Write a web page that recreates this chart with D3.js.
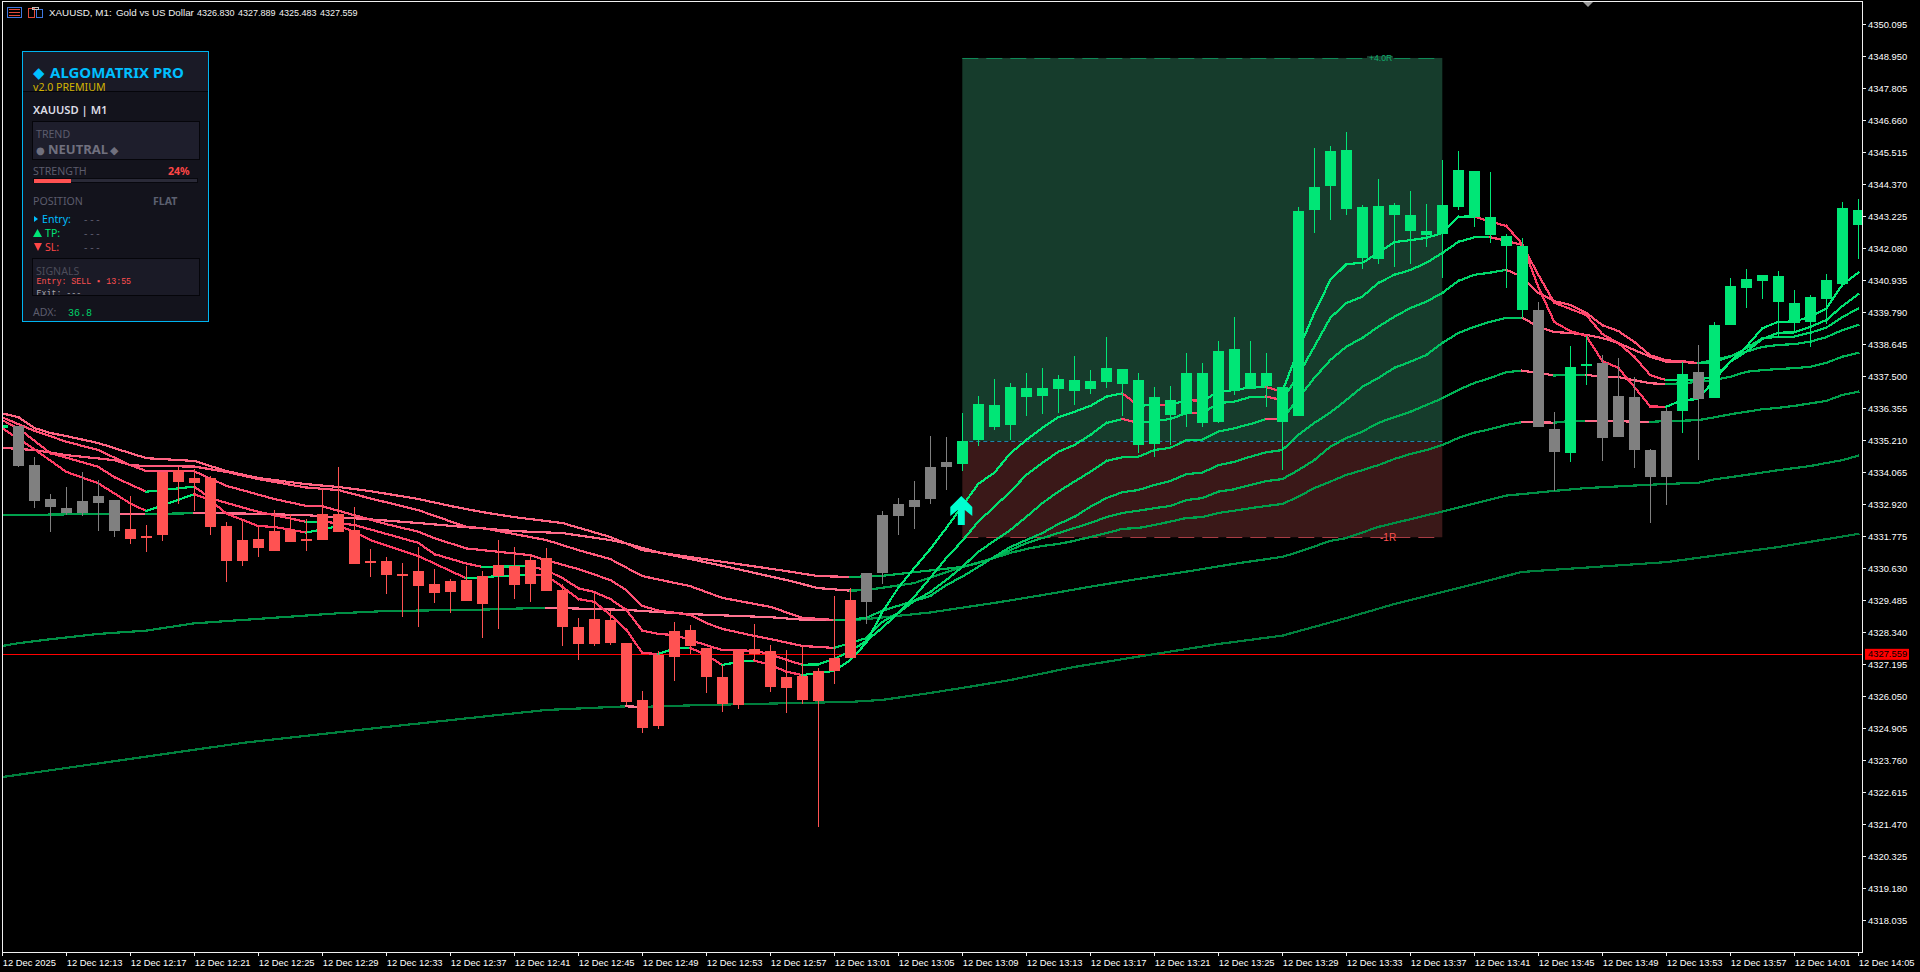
<!DOCTYPE html>
<html>
<head>
<meta charset="utf-8">
<title>XAUUSD M1</title>
<script src="https://cdn.jsdelivr.net/npm/d3@7"></script>
<style>
  html, body { margin: 0; background: #000; overflow: hidden; }
  text { font-family: "Liberation Sans", sans-serif; }
</style>
</head>
<body>
<div id="chart"></div>
<script>
// bars are one minute apart, bar 0 = 12:09
const candleState = "gkkkkkkkrrrrrrrrrrrrrrrrrrrrrrrrrrrrrrrrrrrrrrrrrrrrrrkkkkkkggggggggggggggggggggggggggggggggggggkkggkkkkkgkgggggggggg".split("");
const open = [4335.64,4335.71,4334.31,4333.10,4332.78,4333.01,4333.20,4333.06,4332.02,4331.79,4334.08,4334.14,4333.84,4333.85,4332.13,4331.63,4331.67,4331.95,4331.99,4331.65,4332.58,4332.55,4331.99,4330.87,4330.88,4330.41,4330.52,4330.06,4330.16,4330.20,
  4330.34,4330.74,4330.70,4330.92,4331.00,4329.85,4328.52,4328.80,4328.77,4327.94,4325.91,4327.52,4328.37,4328.41,4327.77,4326.73,4327.70,4327.73,4327.66,4326.73,4326.77,4326.93,4327.41,4329.48,
  4330.45,4332.53,4332.92,4333.06,4334.24,4334.42,
  4334.36,4335.22,4335.69,4335.76,4336.76,4336.80,4337.04,4336.97,4337.04,4337.30,4337.23,4335.04,4335.08,4336.10,4336.15,4335.83,4335.87,4336.95,4337.02,4337.13,4335.87,4336.08,4343.45,4344.31,4343.48,4341.72,4341.69,4343.26,4342.69,4342.55,4342.58,4343.55,4343.19,4342.55,4342.15,4339.86,
  4339.86,4335.60,4334.74,4337.88,4337.96,4336.78,4336.75,4334.85,4336.25,4336.25,4337.64,4336.71,4339.32,4340.65,4340.90,4340.15,4339.41,4339.43,4340.26,4340.79,4342.90];
const high = [4335.75,4335.71,4334.59,4333.28,4333.52,4334.05,4333.78,4333.06,4333.20,4332.16,4334.08,4334.25,4334.16,4333.92,4332.27,4332.35,4332.11,4332.70,4332.56,4332.37,4333.44,4334.23,4332.80,4331.31,4331.01,4330.80,4331.38,4330.59,4330.24,4330.70,
  4330.52,4331.63,4331.38,4331.10,4331.35,4330.06,4328.84,4329.75,4329.10,4327.94,4326.23,4327.66,4328.70,4328.59,4327.77,4327.16,4327.70,4328.63,4327.86,4327.70,4327.84,4327.05,4329.63,4329.90,
  4330.45,4332.67,4333.13,4333.74,4335.35,4335.32,
  4336.16,4336.77,4337.38,4337.24,4337.59,4337.77,4337.52,4338.21,4337.71,4338.88,4337.74,4337.59,4337.09,4337.13,4338.31,4337.95,4338.74,4339.60,4338.74,4338.31,4337.09,4343.53,4345.66,4345.73,4346.23,4343.62,4344.55,4343.68,4344.12,4343.65,4345.23,4345.55,4344.84,4344.80,4342.58,4342.44,
  4340.15,4336.21,4338.57,4338.93,4338.25,4338.14,4337.46,4334.89,4336.35,4338.00,4338.61,4339.43,4341.01,4341.33,4341.11,4341.26,4340.58,4340.40,4341.15,4343.73,4343.83];
const low = [4335.64,4334.25,4332.79,4331.93,4332.53,4332.50,4331.96,4331.75,4331.49,4331.20,4331.59,4332.92,4332.67,4331.82,4330.13,4330.71,4331.02,4331.25,4331.57,4331.24,4331.64,4331.93,4330.78,4330.31,4329.70,4328.88,4328.52,4329.38,4329.02,4329.46,
  4328.14,4328.46,4329.53,4329.43,4329.82,4327.85,4327.35,4327.85,4327.89,4325.74,4324.74,4324.87,4326.59,4327.55,4326.16,4325.48,4325.58,4327.30,4326.19,4325.44,4325.76,4321.36,4326.48,4327.41,
  4328.63,4330.06,4331.81,4332.03,4332.92,4333.42,
  4334.10,4335.00,4335.58,4335.21,4336.07,4336.14,4336.18,4336.46,4336.87,4337.07,4336.07,4334.74,4334.60,4335.02,4335.68,4335.68,4335.82,4336.82,4337.02,4336.38,4334.14,4336.08,4342.62,4343.08,4343.26,4341.33,4341.51,4341.40,4341.51,4342.12,4341.01,4343.44,4342.83,4342.26,4340.65,4339.58,
  4335.68,4333.39,4334.42,4337.18,4334.46,4335.32,4334.21,4332.24,4332.88,4335.46,4334.49,4336.71,4339.32,4339.93,4340.26,4338.91,4339.07,4338.54,4339.36,4340.79,4341.69];
const close = [4335.75,4334.29,4333.04,4332.82,4332.60,4332.60,4332.97,4331.96,4331.68,4331.74,4331.82,4333.72,4333.68,4332.11,4330.89,4330.89,4331.36,4331.25,4331.57,4331.61,4331.64,4331.93,4330.78,4330.82,4330.39,4330.37,4330.00,4329.75,4329.78,4329.46,
  4329.34,4330.34,4330.02,4330.06,4329.82,4328.53,4327.91,4327.91,4327.95,4325.85,4324.90,4324.98,4327.45,4327.84,4326.73,4325.76,4325.73,4327.55,4326.37,4326.34,4325.91,4325.87,4326.94,4327.41,
  4329.41,4330.45,4332.49,4332.81,4333.10,4334.24,
  4335.16,4336.50,4336.45,4337.09,4337.06,4337.06,4337.38,4337.34,4337.31,4337.77,4337.74,4337.34,4336.74,4336.63,4337.59,4337.59,4338.38,4338.45,4337.59,4337.59,4337.09,4343.40,4344.26,4345.55,4345.59,4343.55,4343.58,4343.62,4343.26,4342.69,4343.62,4344.87,4344.84,4343.19,4342.51,4342.15,
  4335.68,4334.78,4337.82,4337.93,4335.28,4335.32,4334.85,4333.89,4333.89,4337.57,4336.68,4339.32,4340.72,4340.97,4341.11,4341.08,4340.11,4340.33,4340.94,4343.51,4343.44];

// moving averages, [bar, price]
const ema1 = [[0,4335.63],[2,4334.88],[4,4334.07],[6,4333.66],[8,4332.94],[9,4332.67],[12,4333.27],[13,4333.06],[14,4332.58],[16,4332.13],[17,4332.10],[19,4331.90],[20,4332.01],[21,4332.13],[22,4331.93],[23,4331.63],[26,4331.06],[29,4330.26],[30,4330.30],[31,4330.34],[33,4330.38],[34,4330.36],[35,4329.96],[36,4329.52],[37,4329.42],[38,4328.95],[39,4328.42],[40,4327.59],[41,4327.55],[42,4327.76],[43,4327.77],[44,4327.52],[45,4327.16],[46,4327.27],[47,4327.32],[48,4327.16],[49,4326.92],[50,4326.80],[51,4326.87],[52,4326.95],[53,4327.34],[54,4327.95],[55,4329.06],[56,4329.92],[57,4330.63],[58,4331.31],[59,4332.06],[60,4332.85],[61,4333.64],[62,4334.04],[63,4334.73],[64,4335.21],[65,4335.64],[66,4336.03],[67,4336.22],[68,4336.43],[69,4336.76],[70,4336.88],[71,4336.44],[72,4336.46],[73,4336.45],[74,4336.64],[75,4336.61],[76,4336.93],[77,4337.00],[78,4337.09],[79,4337.10],[80,4336.94],[81,4338.43],[82,4339.75],[83,4340.93],[84,4341.50],[85,4341.55],[86,4341.90],[87,4342.29],[88,4342.36],[89,4342.44],[90,4342.62],[91,4343.20],[92,4343.21],[93,4343.02],[94,4342.87],[95,4342.22],[96,4340.69],[97,4339.43],[98,4339.11],[99,4338.93],[100,4338.04],[101,4337.79],[102,4337.11],[103,4336.41],[104,4336.40],[105,4336.64],[106,4336.67],[107,4337.36],[108,4338.01],[109,4338.55],[110,4339.21],[111,4339.44],[112,4339.45],[113,4339.62],[114,4339.92],[115,4340.76],[116,4341.20]];
const ema2 = [[0,4335.92],[1,4335.63],[3,4334.74],[6,4334.25],[7,4333.88],[9,4333.36],[12,4333.54],[13,4333.13],[14,4332.96],[16,4332.64],[17,4332.52],[19,4332.28],[20,4332.29],[22,4332.17],[23,4332.01],[26,4331.53],[27,4331.13],[29,4330.79],[30,4330.67],[31,4330.68],[33,4330.70],[34,4330.55],[35,4330.27],[36,4329.91],[37,4329.77],[38,4329.52],[39,4329.13],[40,4328.39],[41,4328.27],[42,4328.23],[43,4328.05],[45,4327.69],[47,4327.67],[48,4327.55],[49,4327.34],[50,4327.17],[51,4327.18],[52,4327.38],[53,4327.66],[54,4328.02],[55,4328.49],[56,4329.02],[57,4329.60],[58,4330.28],[59,4330.99],[60,4331.60],[61,4332.29],[62,4332.82],[63,4333.36],[64,4333.96],[65,4334.39],[66,4334.79],[67,4335.03],[68,4335.39],[69,4335.82],[70,4335.96],[71,4335.82],[72,4335.89],[73,4335.96],[74,4336.17],[75,4336.16],[76,4336.53],[77,4336.58],[78,4336.75],[79,4336.76],[80,4336.64],[81,4337.53],[82,4338.55],[83,4339.58],[84,4340.11],[85,4340.34],[86,4340.83],[87,4341.12],[88,4341.29],[89,4341.55],[90,4341.90],[91,4342.30],[92,4342.46],[93,4342.47],[94,4342.33],[95,4342.19],[96,4341.12],[97,4340.12],[99,4339.68],[100,4339.00],[101,4338.68],[102,4338.19],[103,4337.53],[104,4337.35],[105,4337.36],[106,4337.37],[107,4337.47],[108,4338.01],[109,4338.37],[110,4338.82],[111,4339.05],[112,4339.06],[113,4339.26],[114,4339.50],[115,4340.00],[116,4340.43]];
const ema3 = [[0,4336.02],[2,4335.54],[4,4335.15],[6,4334.85],[8,4334.31],[9,4334.10],[12,4334.09],[14,4333.57],[17,4333.10],[19,4332.85],[20,4332.84],[22,4332.52],[24,4332.20],[26,4331.93],[27,4331.70],[29,4331.33],[30,4331.27],[33,4331.09],[34,4330.91],[36,4330.59],[38,4330.20],[39,4329.84],[40,4329.27],[41,4329.11],[43,4328.95],[44,4328.66],[45,4328.45],[47,4328.20],[48,4328.09],[50,4327.84],[52,4327.77],[53,4327.95],[54,4328.12],[55,4328.70],[56,4329.02],[57,4329.45],[58,4329.77],[59,4330.20],[60,4330.67],[61,4331.21],[62,4331.60],[63,4331.99],[64,4332.46],[65,4332.95],[66,4333.36],[67,4333.72],[68,4334.07],[69,4334.46],[70,4334.59],[71,4334.61],[72,4334.85],[73,4334.93],[74,4335.21],[75,4335.22],[76,4335.51],[77,4335.63],[78,4335.78],[79,4335.96],[80,4335.95],[81,4336.70],[82,4337.43],[83,4338.07],[84,4338.55],[85,4338.86],[86,4339.26],[87,4339.62],[88,4339.93],[89,4340.16],[90,4340.47],[91,4340.90],[92,4341.12],[93,4341.20],[94,4341.30],[95,4341.05],[96,4340.47],[97,4340.18],[98,4340.04],[99,4339.76],[100,4339.32],[101,4339.11],[102,4338.72],[103,4338.24],[104,4338.06],[105,4338.03],[106,4337.96],[107,4338.00],[108,4338.20],[109,4338.49],[110,4338.85],[111,4338.90],[112,4338.91],[113,4339.05],[114,4339.23],[115,4339.61],[116,4339.91]];
const ema4 = [[0,4334.93],[2,4334.85],[4,4334.67],[7,4334.49],[8,4334.31],[9,4334.28],[12,4334.26],[14,4334.07],[16,4333.81],[19,4333.51],[21,4333.42],[23,4333.12],[26,4332.70],[29,4332.10],[30,4332.06],[34,4331.63],[36,4331.27],[38,4330.95],[40,4330.34],[43,4329.98],[45,4329.56],[48,4329.24],[50,4328.85],[52,4328.77],[53,4328.78],[54,4328.85],[55,4329.10],[56,4329.28],[57,4329.45],[58,4329.63],[59,4330.02],[60,4330.32],[61,4330.67],[62,4331.03],[63,4331.38],[64,4331.63],[65,4331.88],[66,4332.20],[67,4332.46],[68,4332.82],[69,4333.13],[70,4333.34],[71,4333.42],[72,4333.60],[73,4333.74],[74,4333.99],[75,4334.04],[76,4334.31],[77,4334.43],[78,4334.61],[79,4334.77],[80,4334.85],[81,4335.39],[82,4335.82],[83,4336.19],[84,4336.64],[85,4337.11],[86,4337.43],[87,4337.79],[88,4338.01],[89,4338.25],[90,4338.68],[91,4339.04],[92,4339.26],[93,4339.44],[94,4339.58],[95,4339.59],[96,4339.26],[97,4339.07],[98,4339.04],[99,4338.97],[100,4338.86],[101,4338.68],[102,4338.43],[103,4338.19],[104,4338.01],[105,4338.00],[106,4337.96],[107,4338.07],[108,4338.21],[109,4338.37],[110,4338.54],[111,4338.61],[112,4338.64],[113,4338.73],[114,4338.89],[115,4339.14],[116,4339.33]];
const ema5 = [[0,4336.16],[1,4336.03],[2,4335.64],[3,4335.46],[4,4335.35],[6,4335.10],[9,4334.56],[12,4334.46],[14,4334.10],[16,4333.85],[19,4333.63],[21,4333.53],[23,4333.38],[26,4333.10],[28,4332.85],[30,4332.63],[32,4332.45],[35,4332.24],[38,4331.74],[40,4331.27],[43,4331.02],[49,4330.52],[51,4330.34],[53,4330.31],[55,4330.35],[57,4330.48],[60,4330.67],[61,4330.81],[62,4330.99],[63,4331.27],[64,4331.52],[65,4331.70],[66,4331.88],[67,4332.06],[68,4332.24],[69,4332.45],[70,4332.60],[71,4332.68],[72,4332.77],[73,4332.85],[74,4333.06],[75,4333.13],[76,4333.36],[77,4333.45],[78,4333.60],[79,4333.74],[80,4333.81],[81,4334.13],[82,4334.49],[83,4334.97],[84,4335.28],[85,4335.51],[86,4335.82],[87,4336.03],[88,4336.22],[89,4336.46],[90,4336.70],[91,4337.00],[92,4337.25],[93,4337.43],[94,4337.64],[95,4337.69],[96,4337.61],[97,4337.52],[98,4337.53],[99,4337.54],[100,4337.47],[101,4337.46],[102,4337.35],[103,4337.24],[104,4337.21],[105,4337.24],[106,4337.29],[107,4337.36],[108,4337.47],[109,4337.65],[110,4337.71],[111,4337.75],[112,4337.78],[113,4337.83],[114,4337.97],[115,4338.19],[116,4338.33]];
const ema6 = [[0,4332.52],[7,4332.57],[9,4332.56],[12,4332.59],[15,4332.58],[19,4332.52],[23,4332.37],[26,4332.24],[29,4332.09],[30,4332.05],[32,4331.95],[35,4331.88],[38,4331.63],[39,4331.51],[41,4331.19],[45,4330.71],[49,4330.20],[51,4329.91],[53,4329.82],[54,4329.84],[57,4330.09],[59,4330.48],[60,4330.66],[62,4330.99],[63,4331.17],[64,4331.31],[65,4331.42],[66,4331.49],[67,4331.60],[68,4331.74],[69,4331.88],[70,4332.03],[71,4332.06],[72,4332.17],[73,4332.29],[74,4332.42],[75,4332.45],[76,4332.60],[77,4332.68],[78,4332.77],[79,4332.85],[80,4332.92],[81,4333.18],[82,4333.49],[83,4333.72],[84,4333.96],[85,4334.13],[86,4334.31],[87,4334.53],[88,4334.71],[89,4334.85],[90,4335.03],[91,4335.28],[92,4335.47],[93,4335.60],[94,4335.75],[95,4335.85],[96,4335.84],[97,4335.83],[98,4335.89],[99,4335.90],[100,4335.89],[103,4335.86],[104,4335.89],[105,4335.90],[106,4335.92],[107,4336.02],[108,4336.13],[109,4336.22],[110,4336.31],[111,4336.36],[112,4336.43],[113,4336.52],[114,4336.61],[115,4336.82],[116,4336.94]];
const ema7 = [[0,4327.84],[1,4327.94],[3,4328.08],[6,4328.27],[9,4328.39],[12,4328.65],[15,4328.77],[18,4328.89],[21,4329.01],[24,4329.09],[30,4329.14],[34,4329.21],[39,4329.13],[43,4328.98],[48,4328.87],[50,4328.78],[52,4328.76],[53,4328.77],[54,4328.80],[58,4329.04],[62,4329.38],[65,4329.66],[68,4329.96],[71,4330.24],[74,4330.50],[77,4330.78],[80,4331.03],[81,4331.20],[83,4331.60],[84,4331.70],[86,4332.10],[90,4332.65],[94,4333.22],[97,4333.39],[99,4333.49],[103,4333.61],[105,4333.66],[106,4333.68],[107,4333.80],[109,4333.96],[111,4334.13],[113,4334.28],[115,4334.49],[116,4334.65]];
const ema8 = [[0,4323.15],[8,4323.80],[15,4324.37],[23,4324.88],[30,4325.31],[34,4325.55],[39,4325.68],[40,4325.66],[41,4325.68],[44,4325.73],[53,4325.84],[55,4325.91],[58,4326.16],[60,4326.34],[63,4326.62],[67,4327.09],[72,4327.55],[76,4327.91],[80,4328.21],[84,4328.84],[87,4329.34],[90,4329.77],[95,4330.49],[104,4330.84],[111,4331.38],[116,4331.85]];
const emaSeries = [ema8, ema7, ema6, ema5, ema4, ema3, ema2, ema1];

const priceTicks = [4350.095,4348.950,4347.805,4346.660,4345.515,4344.370,4343.225,4342.080,4340.935,4339.790,4338.645,4337.500,4336.355,4335.210,4334.065,4332.920,4331.775,4330.630,4329.485,4328.340,4327.195,4326.050,4324.905,4323.760,4322.615,4321.470,4320.325,4319.180,4318.035];
const timeTicks = [0,4,8,12,16,20,24,28,32,36,40,44,48,52,56,60,64,68,72,76,80,84,88,92,96,100,104,108,112,116];
const timeLabels = ["12 Dec 2025","12 Dec 12:13","12 Dec 12:17","12 Dec 12:21","12 Dec 12:25","12 Dec 12:29","12 Dec 12:33","12 Dec 12:37","12 Dec 12:41","12 Dec 12:45","12 Dec 12:49","12 Dec 12:53","12 Dec 12:57","12 Dec 13:01","12 Dec 13:05","12 Dec 13:09","12 Dec 13:13","12 Dec 13:17","12 Dec 13:21","12 Dec 13:25","12 Dec 13:29","12 Dec 13:33","12 Dec 13:37","12 Dec 13:41","12 Dec 13:45","12 Dec 13:49","12 Dec 13:53","12 Dec 13:57","12 Dec 14:01","12 Dec 14:05"];

const bidPrice = 4327.559;
const tradeEntry = 4335.16, tradeStop = 4331.73, tradeTarget = 4348.88;
const tradeStartBar = 60, tradeEndBar = 90;
const arrowBar = 60, arrowPrice = 4332.17;

const width = 1920, height = 972;
const plotRight = 1862, plotBottom = 952;

const x = d3.scaleLinear().domain([0, 116]).range([2.3, 1858.3]);
const y = d3.scaleLinear().domain([4350.095, 4318.035]).range([24, 920]);

const svg = d3.select("#chart").append("svg")
  .attr("width", width).attr("height", height)
  .style("display", "block").style("background", "#000");

svg.append("clipPath").attr("id", "plot").append("rect")
  .attr("x", 3).attr("y", 2).attr("width", plotRight - 3).attr("height", plotBottom - 2);

const plot = svg.append("g").attr("clip-path", "url(#plot)");

// trade box
const zoneX = x(tradeStartBar), zoneW = x(tradeEndBar) - x(tradeStartBar);
plot.append("rect").attr("x", zoneX).attr("y", y(tradeTarget)).attr("width", zoneW)
  .attr("height", y(tradeEntry) - y(tradeTarget)).attr("fill", "#163c2c");
plot.append("rect").attr("x", zoneX).attr("y", y(tradeEntry)).attr("width", zoneW)
  .attr("height", y(tradeStop) - y(tradeEntry)).attr("fill", "#3a1818");

const hLine = (price, color, dash) => plot.append("line")
  .attr("x1", zoneX).attr("x2", zoneX + zoneW)
  .attr("y1", Math.round(y(price)) + 0.5).attr("y2", Math.round(y(price)) + 0.5)
  .attr("stroke", color).attr("stroke-dasharray", dash);
hLine(tradeTarget, "#0f8a58", "16,8");
hLine(tradeStop, "#a83c44", "16,8");
hLine(tradeEntry, "#1b86ad", "4,3");

plot.append("rect").attr("x", 1367).attr("y", y(tradeTarget) - 2).attr("width", 26).attr("height", 4).attr("fill", "#163c2c");
plot.append("text").attr("x", 1369).attr("y", y(tradeTarget) + 3)
  .attr("fill", "#12b070").attr("font-size", 8.6).text("+4.0R");
plot.append("text").attr("x", 1380).attr("y", y(tradeStop) + 3.5)
  .attr("fill", "#ff5252").attr("font-size", 10).text("-1R");

// bid line
plot.append("line").attr("x1", 3).attr("x2", plotRight)
  .attr("y1", Math.round(y(bidPrice)) + 0.5).attr("y2", Math.round(y(bidPrice)) + 0.5)
  .attr("stroke", "#ff0000");

// moving averages, colour per segment: up = green, down = red
const greens = ["#007f3d", "#008f45", "#00a04c", "#00b255", "#00c462", "#00d468", "#00e06f", "#00ec78"];
const reds = ["#ff7a96", "#ff7390", "#ff6b8a", "#ff6483", "#ff5a7c", "#ff5074", "#ff466c", "#ff3c64"];
const segLine = d3.line().x(d => x(d[0])).y(d => y(d[1]));

emaSeries.forEach((series, k) => {
  plot.append("g").selectAll("path")
    .data(d3.pairs(series))
    .join("path")
    .attr("d", d => segLine(d))
    .attr("fill", "none")
    .attr("stroke-width", 2.2)
    .attr("stroke-linecap", "square")
    .attr("shape-rendering", "crispEdges")
    .attr("stroke", d => d[1][1] >= d[0][1] ? greens[k] : reds[k]);
});

// candles
const stateColor = { g: "#00e676", r: "#ff5252", k: "#808080" };
const bars = d3.range(candleState.length);
const candles = plot.append("g").attr("shape-rendering", "crispEdges");

candles.selectAll("rect.wick").data(bars).join("rect")
  .attr("class", "wick")
  .attr("x", i => Math.round(x(i)))
  .attr("y", i => y(high[i]))
  .attr("width", 1)
  .attr("height", i => Math.max(1, y(low[i]) - y(high[i])))
  .attr("fill", i => stateColor[candleState[i]]);

candles.selectAll("rect.body").data(bars).join("rect")
  .attr("class", "body")
  .attr("x", i => Math.round(x(i)) - 5)
  .attr("y", i => y(Math.max(open[i], close[i])))
  .attr("width", 11)
  .attr("height", i => Math.max(2, Math.abs(y(open[i]) - y(close[i]))))
  .attr("fill", i => stateColor[candleState[i]]);

// entry arrow
plot.append("path")
  .attr("transform", `translate(${x(arrowBar) - 1},${y(arrowPrice)})`)
  .attr("d", "M0,-29 L11,-18 L11,-9 L3.5,-15 L3.5,0 L-3.5,0 L-3.5,-15 L-11,-9 L-11,-18 Z")
  .attr("fill", "#00ffd0");

// frame
svg.append("path")
  .attr("d", `M2.5,${plotBottom}V1.5H${plotRight + 0.5}V${plotBottom + 0.5}H2.5`)
  .attr("fill", "none").attr("stroke", "#f0f0f0").attr("shape-rendering", "crispEdges");
svg.append("path").attr("d", "M1583,2H1593L1588,7Z").attr("fill", "#9a9a9a");

// axes
const styleAxis = g => {
  g.select(".domain").remove();
  g.selectAll(".tick line").attr("stroke", "#f0f0f0").attr("shape-rendering", "crispEdges");
  g.selectAll(".tick text").attr("fill", "#ffffff")
    .style("font-family", '"Liberation Sans", sans-serif').style("font-size", "9.4px");
};

svg.append("g").attr("transform", `translate(${plotRight},0)`)
  .call(d3.axisRight(y).tickValues(priceTicks).tickFormat(d3.format(".3f")).tickSize(4).tickPadding(2))
  .call(styleAxis);

svg.append("g").attr("transform", `translate(0,${plotBottom})`)
  .call(d3.axisBottom(x).tickValues(timeTicks).tickFormat((d, i) => timeLabels[i]).tickSize(4).tickPadding(2))
  .call(styleAxis)
  .call(g => g.selectAll(".tick text").attr("text-anchor", "start").attr("dy", "0.9em"));

// bid label
const bidY = y(bidPrice);
svg.append("rect").attr("x", 1865).attr("y", bidY - 5).attr("width", 44).attr("height", 11).attr("fill", "#ff0000");
svg.append("text").attr("x", 1868).attr("y", bidY + 3.5).attr("fill", "#000").attr("font-size", 9.4).text(d3.format(".3f")(bidPrice));

// header
const head = svg.append("g").attr("fill", "#f0f0f0");
[["XAUUSD, M1:", 49, 9.8], ["Gold vs US Dollar", 116, 9.8], ["4326.830", 197, 9], ["4327.889", 238, 9], ["4325.483", 279, 9], ["4327.559", 320, 9]]
  .forEach(([t, tx, fs]) => head.append("text").attr("x", tx).attr("y", 16).attr("font-size", fs).text(t));
const icons = svg.append("g").attr("fill", "none").attr("shape-rendering", "crispEdges");
icons.append("rect").attr("x", 7.5).attr("y", 7.5).attr("width", 14).attr("height", 10).attr("stroke", "#3f78e0");
icons.selectAll("line").data([9.5, 12.5, 15.5]).join("line")
  .attr("x1", 9).attr("x2", 20).attr("y1", d => d).attr("y2", d => d).attr("stroke", "#e04a3a");
icons.append("path").attr("d", "M28.5,17.5V8.5H34.5V17.5Z").attr("stroke", "#e04a3a");
icons.append("path").attr("d", "M36.5,17.5V9.5H42.5V17.5Z").attr("stroke", "#3f78e0");
icons.append("rect").attr("x", 32.5).attr("y", 7.5).attr("width", 6).attr("height", 2).attr("stroke", "#c0c0c0");

// info panel
const panel = svg.append("g");
const box = (bx, by, bw, bh, fill, stroke) => panel.append("rect")
  .attr("x", bx).attr("y", by).attr("width", bw).attr("height", bh)
  .attr("fill", fill).attr("stroke", stroke || "none").attr("shape-rendering", "crispEdges");
const label = (t, lx, ly, color, size, weight, family) => panel.append("text")
  .attr("x", lx).attr("y", ly).attr("fill", color).attr("font-size", size)
  .attr("font-weight", weight || "normal")
  .style("font-family", family || '"Noto Sans", sans-serif').text(t);

box(22.5, 51.5, 186, 270, "#13131c", "#00b4f0");
box(23, 52, 185, 39, "#1a1a26");
panel.append("line").attr("x1", 23).attr("x2", 208).attr("y1", 91.5).attr("y2", 91.5)
  .attr("stroke", "#05050a").attr("shape-rendering", "crispEdges");
label("◆", 33, 78, "#00bfff", 15, "bold", '"DejaVu Sans"');
label("ALGOMATRIX PRO", 50, 77.5, "#00bfff", 15, "bold");
label("v2.0 PREMIUM", 33, 90.5, "#d4b400", 10.6);
label("XAUUSD | M1", 33, 114, "#dcdce4", 11.2, "600");

box(32, 121, 167, 38, "#1e1e2c", "#05050a");
label("TREND", 36, 138, "#5c5c6c", 10.6);
label("●", 36, 154, "#70707e", 10, "normal", '"DejaVu Sans"');
label("NEUTRAL", 48, 154, "#70707e", 13, "bold");
label("◆", 110, 154, "#70707e", 11, "normal", '"DejaVu Sans"');

label("STRENGTH", 33, 175, "#5c5c6c", 10.6);
label("24%", 168, 175, "#ff4646", 10.6, "bold");
box(33.5, 178.5, 164, 4, "#2a2a38", "#08080e");
box(34, 179, 37, 3.5, "#ff5252");

label("POSITION", 33, 205, "#5c5c6c", 10.6);
label("FLAT", 153, 205, "#5c6070", 10.6, "bold");

const dashes = ly => label("- - -", 84, ly, "#5c5c6c", 10.6);
panel.append("path").attr("d", "M34,216L38,219L34,222Z").attr("fill", "#00bfff");
label("Entry:", 42, 223, "#00bfff", 10.6);
dashes(223);
panel.append("path").attr("d", "M33,237L37.5,229L42,237Z").attr("fill", "#00e676");
label("TP:", 45, 237, "#00e676", 10.6);
dashes(237);
panel.append("path").attr("d", "M34,243L42,243L38,251Z").attr("fill", "#ff4646");
label("SL:", 45, 251, "#ff4646", 10.6);
dashes(251);

box(32, 258.5, 167, 37, "#1a1a26");
label("SIGNALS", 36, 275, "#4c4c5a", 10.6);
label("Entry: SELL ▪ 13:55", 36.5, 284, "#ff5050", 8.3, "normal", '"Liberation Mono"');
panel.append("clipPath").attr("id", "sig").append("rect").attr("x", 32).attr("y", 258).attr("width", 167).attr("height", 38);
label("Exit: ---", 36.5, 295.5, "#a8a8b0", 8.3, "normal", '"Liberation Mono"').attr("clip-path", "url(#sig)");
box(32, 258.5, 167, 37, "none", "#05050a");

label("ADX:", 33, 316, "#5c5c6c", 10.6);
label("36.8", 68, 316, "#00d068", 10, "normal", '"Liberation Mono"');
</script>
</body>
</html>
